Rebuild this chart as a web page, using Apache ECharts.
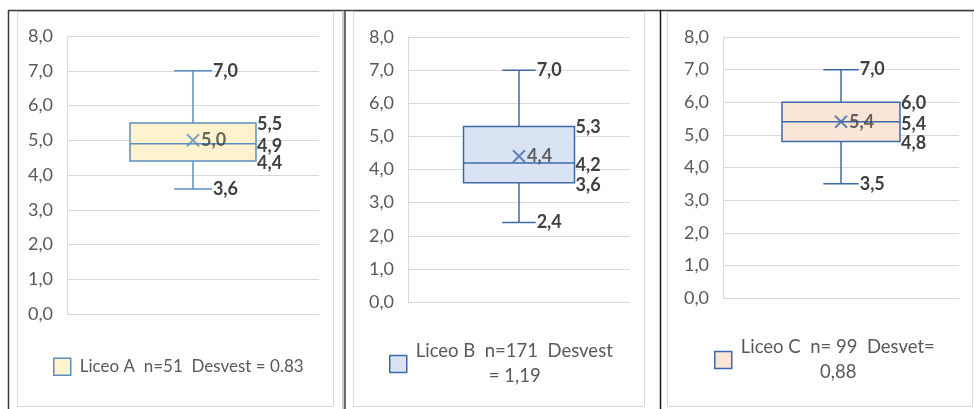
<!DOCTYPE html>
<html>
<head>
<meta charset="utf-8">
<title>Liceos – diagramas de caja</title>
<script src="https://cdn.jsdelivr.net/npm/echarts@6/dist/echarts.min.js"></script>
<style>
  html, body { margin: 0; padding: 0; background: #ffffff; }
  #chart { width: 974px; height: 409px; }
</style>
</head>
<body>
<div id="chart"></div>
<script>
// Five-number summaries and means for each school
const schools = ['Liceo A', 'Liceo B', 'Liceo C'];
const legendNames = [
  'Liceo A  n=51  Desvest = 0.83',
  'Liceo B  n=171  Desvest = 1,19',
  'Liceo C  n= 99  Desvet= 0,88'
];
const legendLines = [
  ['Liceo A  n=51  Desvest = 0.83'],
  ['Liceo B  n=171  Desvest', '= 1,19'],
  ['Liceo C  n= 99  Desvet=', '0,88']
];
const minValues = [3.6, 2.4, 3.5];
const q1Values = [4.4, 3.6, 4.8];
const medianValues = [4.9, 4.2, 5.4];
const q3Values = [5.5, 5.3, 6.0];
const maxValues = [7.0, 7.0, 7.0];
const meanValues = [5.0, 4.4, 5.4];
const yMin = 0, yMax = 8, yStep = 1;

// Styling per panel
const fills = ['#FFF2CC', '#DAE3F3', '#FBE5D6'];
const strokes = ['#5B8EC2', '#3E68A6', '#3E68A6'];
const grids = [
  { left: 67, top: 36, width: 252, height: 278 },
  { left: 408, top: 37, width: 222, height: 265 },
  { left: 723, top: 37, width: 236, height: 261 }
];
const legendPos = [
  { left: 53, center: 370, size: 17 },
  { left: 389, center: 367, size: 18.5 },
  { left: 714, center: 363, size: 18.5 }
];

const FONT = 'Lato, "Liberation Sans", sans-serif';
const LABEL_SIZE = 18;
const AXIS_SIZE = 18;
const LEGEND_LH = 25;

const fmt = v => v.toFixed(1).replace('.', ',');

function textWidth(str, size) {
  const c = document.createElement('canvas').getContext('2d');
  c.font = size + 'px ' + FONT;
  return c.measureText(str).width;
}

function boxRenderer(idx) {
  return function (params, api) {
    const cat = api.value(0);
    const vals = [1, 2, 3, 4, 5].map(i => api.value(i)); // min, q1, med, q3, max
    const cx = api.coord([cat, vals[0]])[0];
    const band = api.size([1, 0])[0];
    const half = band * 0.25;
    const capHalf = band * 0.075;
    const y = vals.map(v => api.coord([cat, v])[1]);
    const lineStyle = { stroke: strokes[idx], lineWidth: 1.5, fill: null };
    const valueLabel = (text, x, yy) => ({
      type: 'text',
      x: x, y: yy,
      style: {
        text: text, fill: '#404040',
        font: 'bold ' + LABEL_SIZE + 'px ' + FONT,
        align: 'left', verticalAlign: 'middle'
      },
      z2: 10
    });
    return {
      type: 'group',
      children: [
        { type: 'line', shape: { x1: cx, y1: y[4], x2: cx, y2: y[3] }, style: lineStyle },
        { type: 'line', shape: { x1: cx, y1: y[1], x2: cx, y2: y[0] }, style: lineStyle },
        { type: 'line', shape: { x1: cx - capHalf, y1: y[4], x2: cx + capHalf, y2: y[4] }, style: lineStyle },
        { type: 'line', shape: { x1: cx - capHalf, y1: y[0], x2: cx + capHalf, y2: y[0] }, style: lineStyle },
        {
          type: 'rect',
          shape: { x: cx - half, y: y[3], width: half * 2, height: y[1] - y[3] },
          style: { fill: fills[idx], stroke: strokes[idx], lineWidth: 1.5 }
        },
        { type: 'line', shape: { x1: cx - half, y1: y[2], x2: cx + half, y2: y[2] }, style: lineStyle },
        valueLabel(fmt(vals[4]), cx + capHalf + 1, y[4]),
        valueLabel(fmt(vals[0]), cx + capHalf + 1, y[0]),
        valueLabel(fmt(vals[3]), cx + half + 1, y[3] + 1),
        valueLabel(fmt(vals[2]), cx + half + 1, y[2] + 2),
        valueLabel(fmt(vals[1]), cx + half + 1, y[1] + 2)
      ]
    };
  };
}

const option = {
  animation: false,
  backgroundColor: '#ffffff',
  textStyle: { fontFamily: FONT },
  grid: grids.map(g => Object.assign({ containLabel: false }, g)),
  xAxis: grids.map((g, i) => ({
    type: 'category',
    gridIndex: i,
    data: [schools[i]],
    axisLine: { show: false },
    axisTick: { show: false },
    axisLabel: { show: false },
    splitLine: { show: false }
  })),
  yAxis: grids.map((g, i) => ({
    type: 'value',
    gridIndex: i,
    min: yMin, max: yMax, interval: yStep,
    axisLine: { show: true, lineStyle: { color: '#D9D9D9', width: 1 } },
    axisTick: { show: false },
    splitLine: { show: true, lineStyle: { color: '#D9D9D9', width: 1 } },
    axisLabel: {
      margin: 14, color: '#595959', fontSize: AXIS_SIZE, fontFamily: FONT,
      formatter: v => fmt(v)
    }
  })),
  legend: legendPos.map((p, i) => {
    const lines = legendLines[i];
    const w = Math.ceil(textWidth(lines[0], p.size));
    const h = lines.length * LEGEND_LH;
    const tok = {
      fontSize: p.size, fontFamily: FONT, color: '#595959',
      lineHeight: LEGEND_LH, width: w, padding: [0, 0, 0, 4]
    };
    return {
      left: p.left,
      top: p.center - h / 2,
      padding: 0,
      itemWidth: 17, itemHeight: 17,
      selectedMode: false,
      data: [{
        name: legendNames[i],
        icon: 'rect',
        itemStyle: { color: fills[i], borderColor: strokes[i], borderWidth: 1.5 }
      }],
      formatter: () => lines.map((l, k) => (k === 0 ? '{a|' : '{b|') + l + '}').join('\n'),
      textStyle: {
        rich: {
          a: Object.assign({ align: 'left' }, tok),
          b: Object.assign({ align: 'center' }, tok)
        }
      }
    };
  }),
  graphic: [
    // chart-area frames
    { type: 'rect', shape: { x: 17.5, y: 11.5, width: 316, height: 395 }, style: { fill: null, stroke: '#D9D9D9', lineWidth: 1 }, silent: true },
    { type: 'rect', shape: { x: 353.5, y: 11.5, width: 291, height: 395 }, style: { fill: null, stroke: '#D9D9D9', lineWidth: 1 }, silent: true },
    { type: 'rect', shape: { x: 667.5, y: 11.5, width: 305, height: 395 }, style: { fill: null, stroke: '#D9D9D9', lineWidth: 1 }, silent: true },
    // table rules
    { type: 'line', shape: { x1: 8, y1: 10.5, x2: 974, y2: 10.5 }, style: { stroke: '#3A3A3A', lineWidth: 1.5 }, silent: true },
    { type: 'line', shape: { x1: 8.5, y1: 10, x2: 8.5, y2: 409 }, style: { stroke: '#3A3A3A', lineWidth: 1.5 }, silent: true },
    { type: 'line', shape: { x1: 343, y1: 10, x2: 343, y2: 409 }, style: { stroke: '#9A9A9A', lineWidth: 1 }, silent: true },
    { type: 'line', shape: { x1: 345, y1: 10, x2: 345, y2: 409 }, style: { stroke: '#3A3A3A', lineWidth: 1.5 }, silent: true },
    { type: 'line', shape: { x1: 660.5, y1: 10, x2: 660.5, y2: 409 }, style: { stroke: '#1A1A1A', lineWidth: 1.5 }, silent: true }
  ],
  series: []
};

schools.forEach((s, i) => {
  option.series.push({
    name: legendNames[i],
    type: 'custom',
    xAxisIndex: i,
    yAxisIndex: i,
    renderItem: boxRenderer(i),
    itemStyle: { color: fills[i], borderColor: strokes[i] },
    encode: { x: 0, y: [1, 2, 3, 4, 5] },
    data: [[0, minValues[i], q1Values[i], medianValues[i], q3Values[i], maxValues[i]]],
    z: 3
  });
  option.series.push({
    name: 'Media ' + s,
    type: 'scatter',
    xAxisIndex: i,
    yAxisIndex: i,
    symbol: 'path://M0 0L10 10M10 0L0 10',
    symbolSize: 12,
    itemStyle: { color: 'rgba(0,0,0,0)', borderColor: strokes[i], borderWidth: 2 },
    label: {
      show: true, position: 'right', distance: 1,
      color: '#404040', fontWeight: 'bold', fontSize: LABEL_SIZE, fontFamily: FONT,
      formatter: p => fmt(p.value[1])
    },
    data: [[0, meanValues[i]]],
    z: 4
  });
});

const chart = echarts.init(document.getElementById('chart'), null, { renderer: 'canvas' });
chart.setOption(option);
</script>
</body>
</html>
